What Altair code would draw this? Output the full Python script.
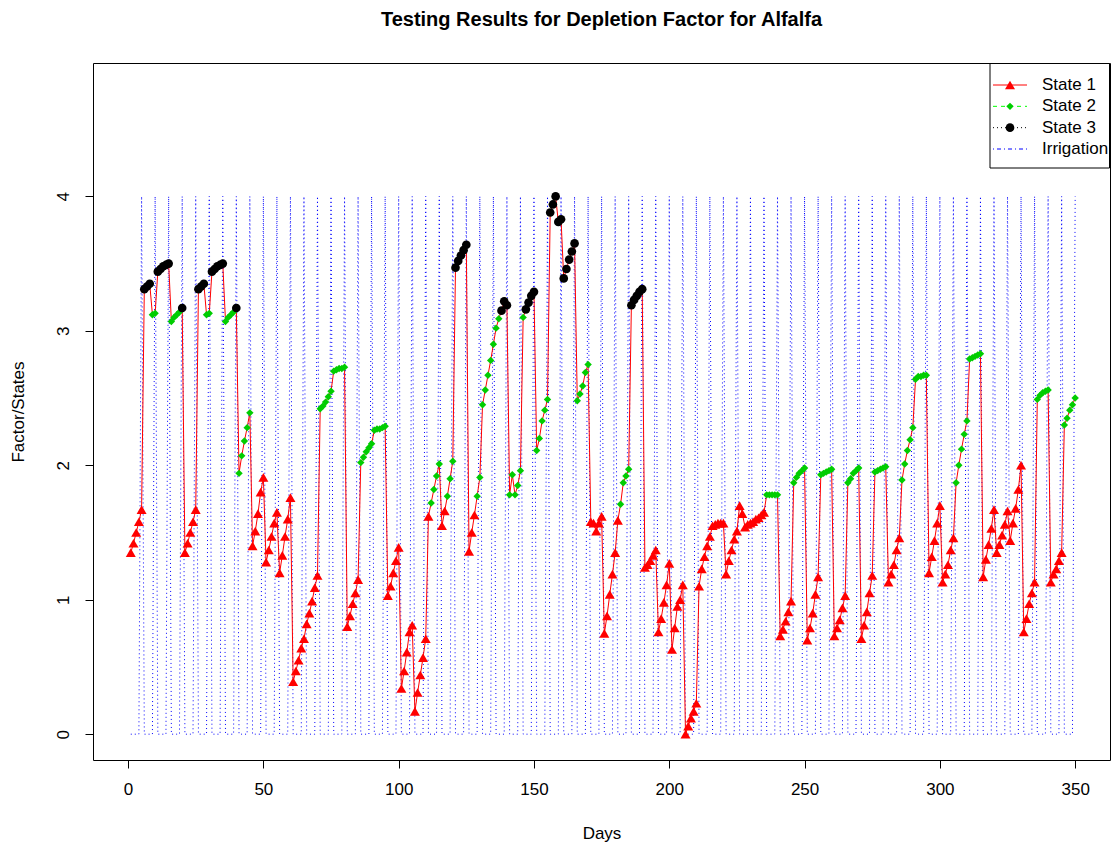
import altair as alt
import pandas as pd

# Daily depletion factor (days 1..350), in rows of ten days
factor = [
    1.35, 1.42, 1.50, 1.58, 1.67, 3.31, 3.33, 3.35, 3.12, 3.13,
    3.44, 3.46, 3.48, 3.49, 3.50, 3.07, 3.10, 3.12, 3.14, 3.17,
    1.35, 1.42, 1.50, 1.58, 1.67, 3.31, 3.33, 3.35, 3.12, 3.13,
    3.44, 3.46, 3.48, 3.49, 3.50, 3.07, 3.10, 3.12, 3.14, 3.17,
    1.94, 2.07, 2.18, 2.28, 2.39, 1.40, 1.51, 1.64, 1.80, 1.91,
    1.28, 1.37, 1.47, 1.57, 1.65, 1.20, 1.33, 1.47, 1.60, 1.76,
    0.39, 0.47, 0.55, 0.64, 0.71, 0.82, 0.90, 0.99, 1.09, 1.18,
    2.42, 2.44, 2.47, 2.51, 2.55, 2.70, 2.71, 2.72, 2.72, 2.73,
    0.80, 0.88, 0.97, 1.05, 1.15, 2.02, 2.06, 2.10, 2.13, 2.16,
    2.26, 2.27, 2.27, 2.28, 2.29, 1.03, 1.10, 1.20, 1.29, 1.39,
    0.34, 0.47, 0.61, 0.76, 0.81, 0.17, 0.31, 0.44, 0.57, 0.71,
    1.62, 1.72, 1.82, 1.92, 2.01, 1.55, 1.66, 1.77, 1.90, 2.03,
    3.47, 3.52, 3.56, 3.60, 3.64, 1.36, 1.50, 1.63, 1.77, 1.91,
    2.45, 2.56, 2.67, 2.78, 2.90, 3.02, 3.09, 3.15, 3.22, 3.19,
    1.78, 1.93, 1.78, 1.85, 1.96, 3.10, 3.16, 3.21, 3.26, 3.29,
    2.11, 2.20, 2.33, 2.41, 2.49, 3.88, 3.94, 4.00, 3.81, 3.83,
    3.39, 3.46, 3.53, 3.59, 3.65, 2.48, 2.53, 2.59, 2.69, 2.75,
    1.58, 1.57, 1.51, 1.57, 1.62, 0.75, 0.88, 1.04, 1.19, 1.35,
    1.59, 1.71, 1.87, 1.92, 1.97, 3.19, 3.23, 3.26, 3.29, 3.31,
    1.24, 1.26, 1.29, 1.33, 1.37, 0.76, 0.86, 0.98, 1.11, 1.27,
    0.63, 0.79, 0.95, 1.00, 1.11, 0.00, 0.06, 0.12, 0.17, 0.23,
    1.10, 1.23, 1.32, 1.40, 1.47, 1.55, 1.56, 1.57, 1.57, 1.57,
    1.19, 1.29, 1.37, 1.45, 1.51, 1.70, 1.64, 1.54, 1.56, 1.57,
    1.58, 1.60, 1.61, 1.63, 1.65, 1.78, 1.78, 1.78, 1.78, 1.78,
    0.73, 0.78, 0.84, 0.91, 0.99, 1.87, 1.91, 1.94, 1.96, 1.98,
    0.70, 0.79, 0.90, 1.04, 1.17, 1.93, 1.94, 1.95, 1.96, 1.97,
    0.73, 0.79, 0.85, 0.94, 1.03, 1.87, 1.90, 1.94, 1.96, 1.98,
    0.71, 0.81, 0.91, 1.05, 1.18, 1.95, 1.96, 1.97, 1.98, 1.99,
    1.13, 1.19, 1.26, 1.37, 1.46, 1.89, 2.01, 2.11, 2.19, 2.28,
    2.64, 2.66, 2.66, 2.67, 2.67, 1.20, 1.32, 1.44, 1.57, 1.70,
    1.13, 1.19, 1.26, 1.37, 1.46, 1.87, 2.00, 2.12, 2.23, 2.33,
    2.79, 2.80, 2.81, 2.82, 2.83, 1.17, 1.30, 1.41, 1.53, 1.67,
    1.35, 1.41, 1.48, 1.56, 1.66, 1.44, 1.57, 1.68, 1.82, 2.00,
    0.76, 0.86, 0.97, 1.05, 1.13, 2.49, 2.52, 2.54, 2.55, 2.56,
    1.13, 1.19, 1.23, 1.29, 1.35, 2.30, 2.35, 2.41, 2.45, 2.50,
]

# Crop state for each day (1, 2 or 3)
state = [
    1, 1, 1, 1, 1, 3, 3, 3, 2, 2,
    3, 3, 3, 3, 3, 2, 2, 2, 2, 3,
    1, 1, 1, 1, 1, 3, 3, 3, 2, 2,
    3, 3, 3, 3, 3, 2, 2, 2, 2, 3,
    2, 2, 2, 2, 2, 1, 1, 1, 1, 1,
    1, 1, 1, 1, 1, 1, 1, 1, 1, 1,
    1, 1, 1, 1, 1, 1, 1, 1, 1, 1,
    2, 2, 2, 2, 2, 2, 2, 2, 2, 2,
    1, 1, 1, 1, 1, 2, 2, 2, 2, 2,
    2, 2, 2, 2, 2, 1, 1, 1, 1, 1,
    1, 1, 1, 1, 1, 1, 1, 1, 1, 1,
    1, 2, 2, 2, 2, 1, 1, 2, 2, 2,
    3, 3, 3, 3, 3, 1, 1, 1, 2, 2,
    2, 2, 2, 2, 2, 2, 2, 3, 3, 3,
    2, 2, 2, 2, 2, 2, 3, 3, 3, 3,
    2, 2, 2, 2, 2, 3, 3, 3, 3, 3,
    3, 3, 3, 3, 3, 2, 2, 2, 2, 2,
    1, 1, 1, 1, 1, 1, 1, 1, 1, 1,
    1, 2, 2, 2, 2, 3, 3, 3, 3, 3,
    1, 1, 1, 1, 1, 1, 1, 1, 1, 1,
    1, 1, 1, 1, 1, 1, 1, 1, 1, 1,
    1, 1, 1, 1, 1, 1, 1, 1, 1, 1,
    1, 1, 1, 1, 1, 1, 1, 1, 1, 1,
    1, 1, 1, 1, 1, 2, 2, 2, 2, 2,
    1, 1, 1, 1, 1, 2, 2, 2, 2, 2,
    1, 1, 1, 1, 1, 2, 2, 2, 2, 2,
    1, 1, 1, 1, 1, 2, 2, 2, 2, 2,
    1, 1, 1, 1, 1, 2, 2, 2, 2, 2,
    1, 1, 1, 1, 1, 2, 2, 2, 2, 2,
    2, 2, 2, 2, 2, 1, 1, 1, 1, 1,
    1, 1, 1, 1, 1, 2, 2, 2, 2, 2,
    2, 2, 2, 2, 2, 1, 1, 1, 1, 1,
    1, 1, 1, 1, 1, 1, 1, 1, 1, 1,
    1, 1, 1, 1, 1, 2, 2, 2, 2, 2,
    1, 1, 1, 1, 1, 2, 2, 2, 2, 2,
]

days = list(range(1, 351))
irrigation_days = list(range(5, 351, 5))
irrigation_level = 4

x_ticks = [0, 50, 100, 150, 200, 250, 300, 350]
y_ticks = [0, 1, 2, 3, 4]
legend_labels = ["State 1", "State 2", "State 3", "Irrigation"]

irrigation = [irrigation_level if d in irrigation_days else 0 for d in days]
df = pd.DataFrame({"day": days, "factor": factor, "state": state, "irrigation": irrigation})
legend_df = pd.DataFrame({"row": list(range(len(legend_labels))), "label": legend_labels})

FONT = "Liberation Sans"
xscale = alt.Scale(domain=[-12.96, 362.87], nice=False, zero=False)
yscale = alt.Scale(domain=[-0.192, 4.992], nice=False, zero=False)

# One shared x definition (with its axis) for every data layer
x_enc = alt.X(
    "day:Q", scale=xscale,
    axis=alt.Axis(values=x_ticks, title="Days", labelPadding=13,
                  titleY=73, titleBaseline="middle"),
)

base = alt.Chart(df)

irrigation_line = base.mark_line(color="#0000FF", strokeWidth=1, strokeDash=[1, 3]).encode(
    x=x_enc,
    y=alt.Y(
        "irrigation:Q", scale=yscale,
        axis=alt.Axis(values=y_ticks, title="Factor/States", labelAngle=270,
                      labelAlign="center", labelBaseline="middle", labelPadding=22,
                      titleX=-75, titleBaseline="middle"),
    ),
)

factor_line = base.mark_line(color="#FF0000", strokeWidth=1).encode(
    x=x_enc, y=alt.Y("factor:Q", scale=yscale, axis=None)
)

marker_style = {
    1: dict(shape="triangle-up", color="#FF0000", size=100),
    2: dict(shape="diamond", color="#00CD00", size=55),
    3: dict(shape="circle", color="#000000", size=75),
}
marker_layers = [
    base.transform_filter(alt.datum.state == s)
    .mark_point(filled=True, opacity=1, strokeWidth=0, **style)
    .encode(x=x_enc, y=alt.Y("factor:Q", scale=yscale, axis=None))
    for s, style in marker_style.items()
]

# Legend box in the top-right corner of the plot
legend_y = alt.Y("row:Q", scale=alt.Scale(domain=[0, 3], range=[22, 86]), axis=None)
legend_box = alt.Chart(legend_df).mark_rect(fill="white", stroke="black", strokeWidth=1).encode(
    x=alt.value(897), x2=alt.value(1016.5), y=alt.value(0.5), y2=alt.value(105)
).transform_filter(alt.datum.row == 0)

legend_line_style = [
    dict(color="#FF0000", strokeDash=[1, 0]),
    dict(color="#00FF00", strokeDash=[4, 4]),
    dict(color="#000000", strokeDash=[1, 3]),
    dict(color="#0000FF", strokeDash=[1, 3, 4, 3]),
]
legend_lines = [
    alt.Chart(legend_df).transform_filter(alt.datum.row == i)
    .mark_rule(strokeWidth=1, **st)
    .encode(x=alt.value(900), x2=alt.value(934), y=legend_y)
    for i, st in enumerate(legend_line_style)
]
legend_marks = [
    alt.Chart(legend_df).transform_filter(alt.datum.row == i)
    .mark_point(filled=True, opacity=1, strokeWidth=0, **marker_style[i + 1])
    .encode(x=alt.value(917), y=legend_y)
    for i in range(3)
]
legend_text = alt.Chart(legend_df).mark_text(
    align="left", baseline="middle", font=FONT, fontSize=17, color="black"
).encode(x=alt.value(949), y=legend_y, text="label:N")

chart = alt.layer(
    irrigation_line, factor_line, *marker_layers,
    legend_box, *legend_lines, *legend_marks, legend_text,
).resolve_scale(y="independent").properties(
    width=1017,
    height=697,
    padding={"left": 93, "top": 63, "right": 1, "bottom": 84},
    autosize=alt.AutoSizeParams(type="none"),
    background="white",
    title=alt.TitleParams(
        "Testing Results for Depletion Factor for Alfalfa",
        font=FONT, fontSize=20, fontWeight="bold", color="black",
        anchor="middle", baseline="alphabetic", offset=17,
    ),
).configure_view(
    stroke="black", strokeWidth=1
).configure_axis(
    domain=False, grid=False, ticks=True, tickColor="black", tickSize=8, tickWidth=1,
    labelFont=FONT, labelFontSize=17, labelColor="black",
    titleFont=FONT, titleFontSize=17, titleFontWeight="normal", titleColor="black",
)

chart.save("out.html", embed_options={"renderer": "svg", "actions": False})
